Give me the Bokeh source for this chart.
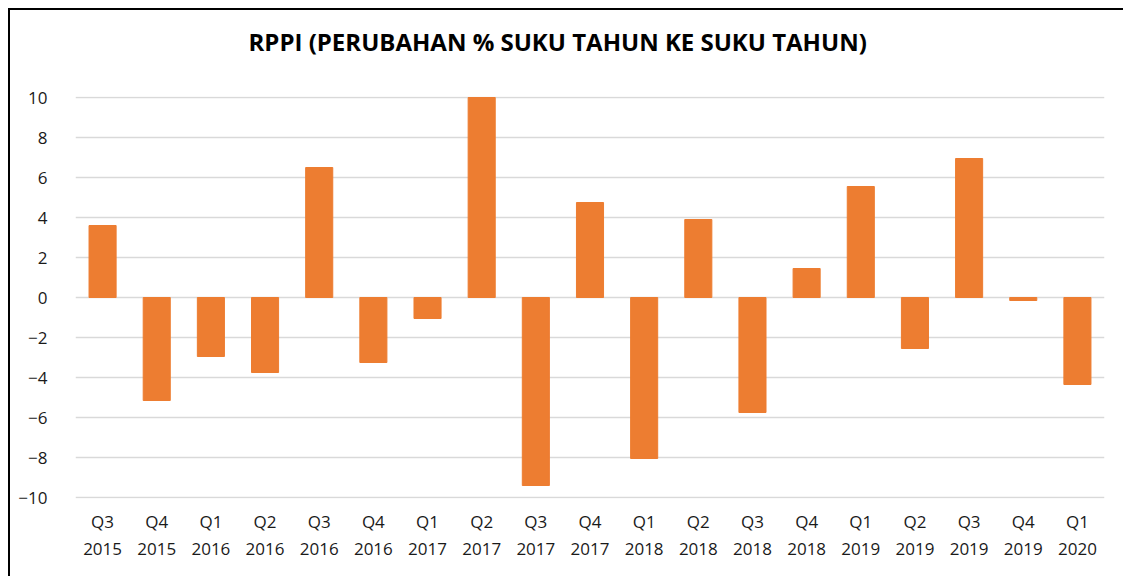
from bokeh.plotting import figure
from bokeh.models import FactorRange, Range1d, FixedTicker
from bokeh.embed import file_html
from bokeh.resources import INLINE

quarters = ["Q3", "Q4", "Q1", "Q2", "Q3", "Q4", "Q1", "Q2", "Q3", "Q4",
            "Q1", "Q2", "Q3", "Q4", "Q1", "Q2", "Q3", "Q4", "Q1"]
years = ["2015", "2015", "2016", "2016", "2016", "2016", "2017", "2017", "2017", "2017",
         "2018", "2018", "2018", "2018", "2019", "2019", "2019", "2019", "2020"]
values = [3.6, -5.15, -2.95, -3.75, 6.5, -3.25, -1.05, 10.0, -9.4, 4.75,
          -8.05, 3.9, -5.75, 1.45, 5.55, -2.55, 6.95, -0.15, -4.35]
y_ticks = [-10, -8, -6, -4, -2, 0, 2, 4, 6, 8, 10]
title_text = "RPPI (PERUBAHAN % SUKU TAHUN KE SUKU TAHUN)"

cats = [f"{q}\n{y}" for q, y in zip(quarters, years)]

p = figure(width=1123, height=576, x_range=FactorRange(*cats, range_padding=0),
           y_range=Range1d(-10.05, 10.05), output_backend="svg", toolbar_location=None,
           min_border_left=75, min_border_right=19, min_border_top=96, min_border_bottom=78)
# frame lines (left and top) drawn as inset shadows behind a transparent canvas
p.background_fill_color = None
p.border_fill_color = None
p.styles = {"background-color": "#ffffff",
            "box-shadow": "inset 8px 8px 0px 0px #ffffff, inset 10px 10px 0px 0px #000000"}

p.vbar(x=cats, top=values, width=0.5, color="#ED7D31")

p.title.text = title_text + "\n"
p.title.align = "left"
p.title.offset = 173
p.title.text_font = "Open Sans"
p.title.text_font_size = "24px"
p.title.text_font_style = "bold"
p.title.text_color = "#000000"
p.title.standoff = 11

p.outline_line_color = None
p.xgrid.grid_line_color = None
p.ygrid.grid_line_color = "#D9D9D9"
p.ygrid.grid_line_width = 1.5
p.yaxis.ticker = FixedTicker(ticks=y_ticks)

for ax in (p.xaxis, p.yaxis):
    ax.axis_line_color = None
    ax.major_tick_line_color = None
    ax.minor_tick_line_color = None
    ax.major_label_text_font = "Open Sans"
    ax.major_label_text_font_size = "17px"
    ax.major_label_text_color = "#1a1a1a"

p.yaxis.major_label_standoff = 22
p.xaxis.major_label_standoff = 5

open("out.html", "w").write(file_html(p, INLINE))
